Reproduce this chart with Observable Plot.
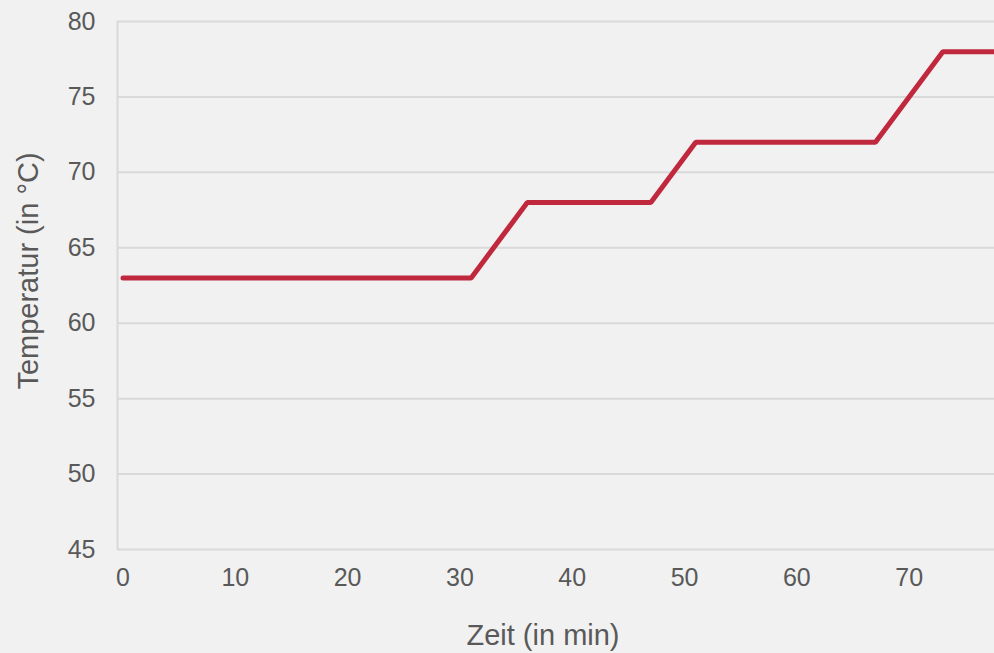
<!DOCTYPE html>
<html>
<head>
<meta charset="utf-8">
<script src="https://cdn.jsdelivr.net/npm/d3@7"></script>
<script src="https://cdn.jsdelivr.net/npm/@observablehq/plot@0.6"></script>
<style>
  html, body { margin: 0; padding: 0; background: #f1f1f1; }
  #chart svg { display: block; background: #f1f1f1; }
</style>
</head>
<body>
<div id="chart"></div>
<script>
const minutes = [0, 31, 36, 47, 51, 67, 73, 78];
const temperatures = [63, 63, 68, 68, 72, 72, 78, 78];
const xTicks = [0, 10, 20, 30, 40, 50, 60, 70];
const yTicks = [45, 50, 55, 60, 65, 70, 75, 80];
const xTitle = "Zeit (in min)";
const yTitle = "Temperatur (in °C)";

const data = minutes.map((m, i) => ({ x: m, y: temperatures[i] }));

const W = 994, H = 653;
const font = "'Liberation Sans', Arial, sans-serif";
const textColor = "#595959";
const gridColor = "#d9d9d9";

const plot = Plot.plot({
  width: W,
  height: H,
  marginLeft: 117,
  marginRight: 0,
  marginTop: 21,
  marginBottom: 104,
  style: { background: "#f1f1f1", fontFamily: font, color: textColor },
  x: { domain: [-0.49, 77.6], ticks: xTicks, label: null },
  y: { domain: [45, 80], ticks: yTicks, label: null },
  marks: [
    Plot.gridY(yTicks, { stroke: gridColor, strokeOpacity: 1, strokeWidth: 2 }),
    Plot.ruleX([-0.49], { y1: 45, y2: 80, stroke: gridColor, strokeWidth: 2 }),
    Plot.axisY(yTicks, { tickSize: 0, tickPadding: 22, fontSize: 25, fill: textColor }),
    Plot.axisX(xTicks, { tickSize: 0, tickPadding: 19, fontSize: 25, fill: textColor }),
    Plot.line(data, { x: "x", y: "y", stroke: "#c0283e", strokeWidth: 5, strokeLinecap: "round", strokeLinejoin: "miter", clip: true })
  ]
});

document.getElementById("chart").appendChild(plot);

const svg = d3.select(plot);
svg.append("text")
  .attr("x", 543).attr("y", 645)
  .attr("text-anchor", "middle")
  .attr("font-family", font).attr("font-size", 29)
  .attr("fill", textColor)
  .text(xTitle);
svg.append("text")
  .attr("transform", "translate(38,271) rotate(-90)")
  .attr("text-anchor", "middle")
  .attr("font-family", font).attr("font-size", 29)
  .attr("fill", textColor)
  .text(yTitle);
</script>
</body>
</html>
